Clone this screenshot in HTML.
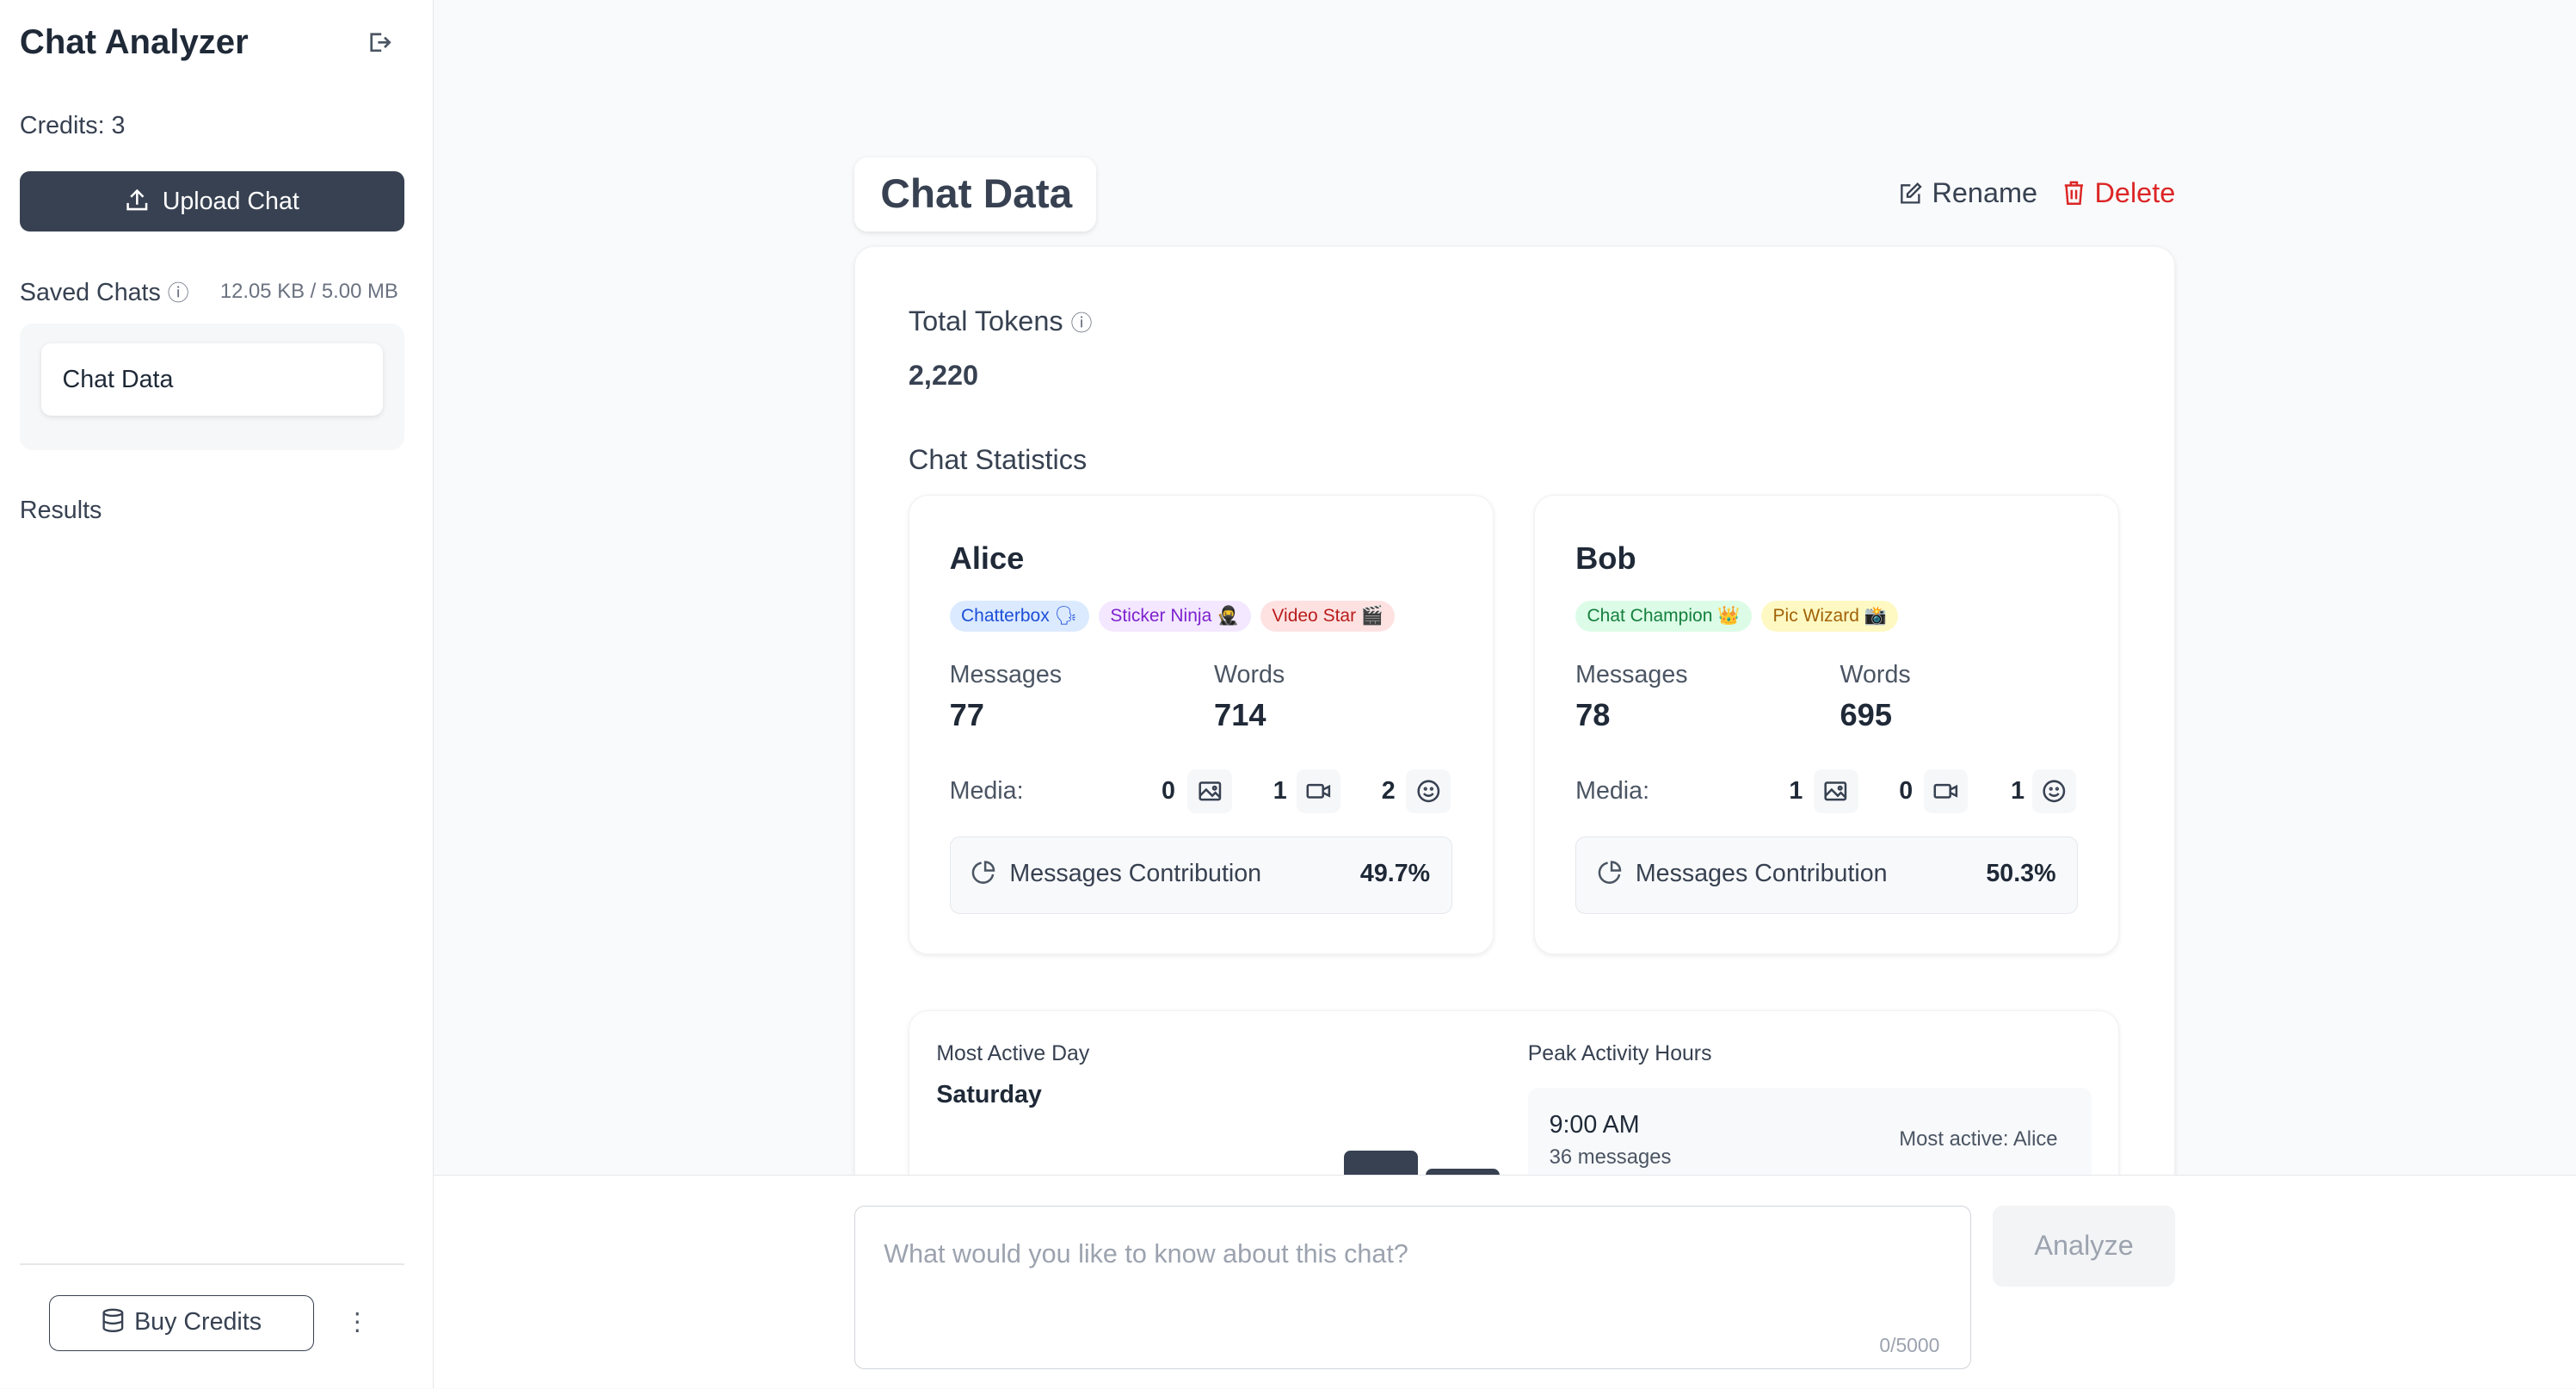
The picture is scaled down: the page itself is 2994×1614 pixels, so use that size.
<!DOCTYPE html>
<html><head><meta charset="utf-8"><style>
*{box-sizing:border-box;margin:0;padding:0}
html,body{width:2994px;height:1614px;overflow:hidden;background:#f9fafb}
#w{zoom:1.9094;width:1568px;height:845px;position:relative;font-family:"Liberation Sans",sans-serif;color:#1f2937;overflow:hidden}
.a{position:absolute;white-space:nowrap}
.card{position:absolute;background:#fff;border-radius:12px;box-shadow:0 1px 3px rgba(0,0,0,.08);border:1px solid #f1f2f4}
.badge{display:inline-block;font-size:11px;padding:3px 7px;border-radius:10px;margin-right:6px}
.ib{position:absolute;width:27px;height:27px;background:#f6f7f9;border-radius:5px}
.ib svg{position:absolute;left:6px;top:6px}
.n{position:absolute;font-size:15px;font-weight:bold}
</style></head><body><div id="w">
<div class="a" style="left:0;top:0;width:264px;height:845px;background:#fff;border-right:1px solid #e5e7eb"></div>
<div class="a" style="left:12px;top:14px;font-size:21px;font-weight:bold;color:#1f2937">Chat Analyzer</div>
<svg class="a" style="left:223px;top:18px" width="16" height="16" viewBox="0 0 16 16" fill="none" stroke="#4b5563" stroke-width="1.4"><path d="M9 3H3v10h6M7 8h7M11 5l3 3-3 3"/></svg>
<div class="a" style="left:12px;top:68px;font-size:15px;color:#374151">Credits: 3</div>
<div class="a" style="left:12px;top:104px;width:234px;height:37px;background:#374151;border-radius:6px;color:#fff;font-size:15px;text-align:center;line-height:37px"><svg width="15" height="15" viewBox="0 0 16 16" fill="none" stroke="#fff" stroke-width="1.4" style="vertical-align:-2px;margin-right:8px"><path d="M2 10v4h12v-4M8 11V2M4 6l4-4 4 4"/></svg>Upload Chat</div>
<div class="a" style="left:12px;top:168px;font-size:15px;color:#374151">Saved Chats <span style="font-size:13px;color:#6b7280">ⓘ</span></div>
<div class="a" style="left:134px;top:170px;font-size:12.5px;color:#6b7280">12.05 KB / 5.00 MB</div>
<div class="a" style="left:12px;top:197px;width:234px;height:77px;background:#f6f7f9;border-radius:8px"></div>
<div class="a" style="left:25px;top:209px;width:208px;height:44px;background:#fff;border-radius:6px;box-shadow:0 1px 3px rgba(0,0,0,.1);font-size:15px;line-height:44px;padding-left:13px">Chat Data</div>
<div class="a" style="left:12px;top:302px;font-size:15px;color:#374151">Results</div>
<div class="a" style="left:12px;top:769px;width:234px;height:1px;background:#e5e7eb"></div>
<div class="a" style="left:30px;top:788px;width:161px;height:34px;border:1px solid #374151;border-radius:6px;font-size:15px;text-align:center;line-height:32px;color:#374151"><svg width="14" height="15" viewBox="0 0 14 16" fill="none" stroke="#374151" stroke-width="1.3" style="vertical-align:-2px;margin-right:6px"><ellipse cx="7" cy="3" rx="6" ry="2"/><path d="M1 3v10c0 1 3 2 6 2s6-1 6-2V3M1 8c0 1 3 2 6 2s6-1 6-2"/></svg>Buy Credits</div>
<div class="a" style="left:210px;top:795px;font-size:15px;color:#4b5563">⋮</div>

<div class="a" style="left:520px;top:96px;width:147px;height:45px;background:#fff;border-radius:8px;box-shadow:0 1px 3px rgba(0,0,0,.1);font-size:25px;font-weight:bold;line-height:45px;padding-left:16px;color:#374151">Chat Data</div>
<svg class="a" style="left:1156px;top:111px" width="14" height="14" viewBox="0 0 16 16" fill="none" stroke="#374151" stroke-width="1.4"><path d="M8 2H2v12h12V8M13 1l2 2-7 7H6V8z"/></svg>
<div class="a" style="left:1176px;top:108px;font-size:17px;color:#374151">Rename</div>
<svg class="a" style="left:1256px;top:110px" width="13" height="15" viewBox="0 0 14 16" fill="none" stroke="#dc2626" stroke-width="1.4"><path d="M1 3h12M5 3V1h4v2M2 3l1 12h8l1-12M5.5 6v6M8.5 6v6"/></svg>
<div class="a" style="left:1275px;top:108px;font-size:17px;color:#dc2626">Delete</div>
<div class="card" style="left:520px;top:150px;width:804px;height:700px"></div>
<div class="a" style="left:553px;top:186px;font-size:17px;color:#374151">Total Tokens <span style="font-size:13px;color:#6b7280">ⓘ</span></div>
<div class="a" style="left:553px;top:219px;font-size:17px;font-weight:bold;color:#374151">2,220</div>
<div class="a" style="left:553px;top:270px;font-size:17px;color:#374151">Chat Statistics</div>

<div class="card" style="left:553px;top:301px;width:356px;height:280px"></div>
<div class="card" style="left:934px;top:301px;width:356px;height:280px"></div>
<div class="a" style="left:578px;top:329px;font-size:19px;font-weight:bold">Alice</div>
<div class="a" style="left:578px;top:364px"><span class="badge" style="background:#dbeafe;color:#1d4ed8">Chatterbox 🗣</span><span class="badge" style="background:#f3e8ff;color:#7e22ce">Sticker Ninja 🥷</span><span class="badge" style="background:#fee2e2;color:#b91c1c">Video Star 🎬</span></div>
<div class="a" style="left:959px;top:329px;font-size:19px;font-weight:bold">Bob</div>
<div class="a" style="left:959px;top:364px"><span class="badge" style="background:#dcfce7;color:#15803d">Chat Champion 👑</span><span class="badge" style="background:#fef9c3;color:#a16207">Pic Wizard 📸</span></div>

<div class="a" style="left:578px;top:402px;font-size:15px;color:#4b5563">Messages</div>
<div class="a" style="left:739px;top:402px;font-size:15px;color:#4b5563">Words</div>
<div class="a" style="left:578px;top:424px;font-size:19px;font-weight:bold">77</div>
<div class="a" style="left:739px;top:424px;font-size:19px;font-weight:bold">714</div>
<div class="a" style="left:959px;top:402px;font-size:15px;color:#4b5563">Messages</div>
<div class="a" style="left:1120px;top:402px;font-size:15px;color:#4b5563">Words</div>
<div class="a" style="left:959px;top:424px;font-size:19px;font-weight:bold">78</div>
<div class="a" style="left:1120px;top:424px;font-size:19px;font-weight:bold">695</div>

<div class="a" style="left:578px;top:473px;font-size:15px;color:#4b5563">Media:</div>
<div class="a" style="left:959px;top:473px;font-size:15px;color:#4b5563">Media:</div>
<!-- Alice media -->
<div class="n" style="left:707px;top:473px">0</div>
<div class="ib" style="left:723px;top:468px"><svg width="15" height="15" viewBox="0 0 16 16" fill="none" stroke="#374151" stroke-width="1.4"><rect x="1.5" y="2.5" width="13" height="11" rx="1"/><path d="M1.5 11l4-4 4 4 2-2 3 3"/><circle cx="11" cy="6" r="1"/></svg></div>
<div class="n" style="left:775px;top:473px">1</div>
<div class="ib" style="left:789px;top:468px"><svg width="15" height="15" viewBox="0 0 16 16" fill="none" stroke="#374151" stroke-width="1.4"><rect x="1" y="4" width="10" height="8" rx="1"/><path d="M11 7l4-2v6l-4-2"/></svg></div>
<div class="n" style="left:841px;top:473px">2</div>
<div class="ib" style="left:856px;top:468px"><svg width="15" height="15" viewBox="0 0 16 16" fill="none" stroke="#374151" stroke-width="1.4"><circle cx="8" cy="8" r="6.5"/><path d="M5 9.5c1.5 2 4.5 2 6 0"/><circle cx="6" cy="6.5" r=".5"/><circle cx="10" cy="6.5" r=".5"/></svg></div>
<!-- Bob media -->
<div class="n" style="left:1089px;top:473px">1</div>
<div class="ib" style="left:1104px;top:468px"><svg width="15" height="15" viewBox="0 0 16 16" fill="none" stroke="#374151" stroke-width="1.4"><rect x="1.5" y="2.5" width="13" height="11" rx="1"/><path d="M1.5 11l4-4 4 4 2-2 3 3"/><circle cx="11" cy="6" r="1"/></svg></div>
<div class="n" style="left:1156px;top:473px">0</div>
<div class="ib" style="left:1171px;top:468px"><svg width="15" height="15" viewBox="0 0 16 16" fill="none" stroke="#374151" stroke-width="1.4"><rect x="1" y="4" width="10" height="8" rx="1"/><path d="M11 7l4-2v6l-4-2"/></svg></div>
<div class="n" style="left:1224px;top:473px">1</div>
<div class="ib" style="left:1237px;top:468px"><svg width="15" height="15" viewBox="0 0 16 16" fill="none" stroke="#374151" stroke-width="1.4"><circle cx="8" cy="8" r="6.5"/><path d="M5 9.5c1.5 2 4.5 2 6 0"/><circle cx="6" cy="6.5" r=".5"/><circle cx="10" cy="6.5" r=".5"/></svg></div>

<div class="a" style="left:578px;top:509px;width:306px;height:47px;background:#f8f9fb;border:1px solid #e5e7eb;border-radius:6px;font-size:15px;line-height:45px;padding:0 13px;color:#374151"><svg width="15" height="15" viewBox="0 0 16 16" fill="none" stroke="#4b5563" stroke-width="1.4" style="vertical-align:-2px;margin-right:8px"><path d="M14 9.5A6.5 6.5 0 1 1 6.5 2M9 1.5A5.5 5.5 0 0 1 14.5 7H9z"/></svg>Messages Contribution<b style="position:absolute;right:13px;color:#1f2937">49.7%</b></div>
<div class="a" style="left:959px;top:509px;width:306px;height:47px;background:#f8f9fb;border:1px solid #e5e7eb;border-radius:6px;font-size:15px;line-height:45px;padding:0 13px;color:#374151"><svg width="15" height="15" viewBox="0 0 16 16" fill="none" stroke="#4b5563" stroke-width="1.4" style="vertical-align:-2px;margin-right:8px"><path d="M14 9.5A6.5 6.5 0 1 1 6.5 2M9 1.5A5.5 5.5 0 0 1 14.5 7H9z"/></svg>Messages Contribution<b style="position:absolute;right:13px;color:#1f2937">50.3%</b></div>

<div class="card" style="left:553px;top:615px;width:737px;height:200px"></div>
<div class="a" style="left:570px;top:634px;font-size:13px;color:#374151">Most Active Day</div>
<div class="a" style="left:570px;top:658px;font-size:15px;font-weight:bold">Saturday</div>
<div class="a" style="left:818px;top:700px;width:45px;height:30px;background:#374151;border-radius:4px"></div>
<div class="a" style="left:868px;top:711px;width:45px;height:30px;background:#374151;border-radius:4px"></div>
<div class="a" style="left:930px;top:634px;font-size:13px;color:#374151">Peak Activity Hours</div>
<div class="a" style="left:930px;top:662px;width:343px;height:80px;background:#f8f9fb;border-radius:6px"></div>
<div class="a" style="left:943px;top:676px;font-size:15px;color:#1f2937">9:00 AM</div>
<div class="a" style="left:943px;top:697px;font-size:12.5px;color:#4b5563">36 messages</div>
<div class="a" style="left:1156px;top:686px;font-size:12.5px;color:#4b5563">Most active: Alice</div>

<div class="a" style="left:264px;top:715px;width:1304px;height:130px;background:#fff;border-top:1px solid #e5e7eb"></div>
<div class="a" style="left:520px;top:734px;width:680px;height:99px;border:1px solid #d1d5db;border-radius:6px;background:#fff"></div>
<div class="a" style="left:538px;top:754px;font-size:16px;color:#9ca3af">What would you like to know about this chat?</div>
<div class="a" style="left:1144px;top:812px;font-size:12px;color:#9ca3af">0/5000</div>
<div class="a" style="left:1213px;top:734px;width:111px;height:49px;background:#f3f4f6;border-radius:6px;font-size:17px;color:#9ca3af;text-align:center;line-height:49px">Analyze</div>
</div></body></html>
